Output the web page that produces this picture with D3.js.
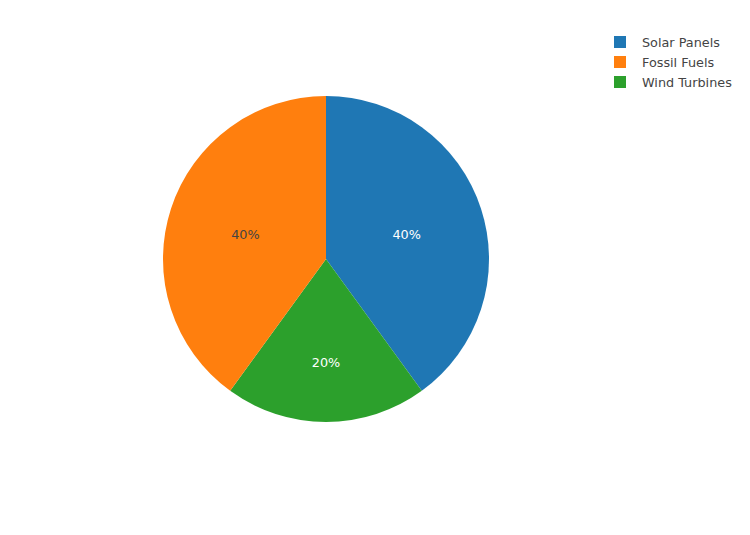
<!DOCTYPE html>
<html>
<head>
<meta charset="utf-8">
<script src="https://cdn.jsdelivr.net/npm/d3@7"></script>
<style>
  body { margin: 0; background: #fff; }
  svg { display: block; font-family: "DejaVu Sans", Verdana, sans-serif; }
</style>
</head>
<body>
<div id="chart"></div>
<script>
// slices in drawing order (clockwise from top)
const sliceLabels = ["Solar Panels", "Wind Turbines", "Fossil Fuels"];
const sliceValues = [40, 20, 40];
const sliceColors = ["#1f77b4", "#2ca02c", "#ff7f0e"];
const textColors = ["#ffffff", "#ffffff", "#444444"];

// legend order
const legendLabels = ["Solar Panels", "Fossil Fuels", "Wind Turbines"];

const W = 750;
const H = 535;
const cx = 326, cy = 259, R = 163;

const svg = d3.select("#chart").append("svg").attr("width", W).attr("height", H);

const color = d3.scaleOrdinal().domain(sliceLabels).range(sliceColors);
const txtColor = d3.scaleOrdinal().domain(sliceLabels).range(textColors);

const pie = d3.pie().sort(null).value(d => d.value);
const arcs = pie(sliceLabels.map((l, i) => ({ label: l, value: sliceValues[i] })));
const total = d3.sum(sliceValues);

const arc = d3.arc().innerRadius(0).outerRadius(R);

const g = svg.append("g").attr("transform", `translate(${cx},${cy})`);

g.selectAll("path")
  .data(arcs)
  .join("path")
  .attr("d", arc)
  .attr("fill", d => color(d.data.label));

// narrow slices push their text further out
g.selectAll("text")
  .data(arcs)
  .join("text")
  .attr("transform", d => {
    const span = d.endAngle - d.startAngle;
    const r = span > Math.PI * 0.6 ? R * 0.52 : R * 0.63;
    const a = (d.startAngle + d.endAngle) / 2;
    return `translate(${r * Math.sin(a)},${-r * Math.cos(a)})`;
  })
  .attr("text-anchor", "middle")
  .attr("dy", "0.45em")
  .attr("font-size", 12.8)
  .attr("fill", d => txtColor(d.data.label))
  .text(d => `${Math.round(d.data.value / total * 100)}%`);

// Legend
const legend = svg.append("g").attr("transform", "translate(614,36)");
const items = legend.selectAll("g")
  .data(legendLabels)
  .join("g")
  .attr("transform", (d, i) => `translate(0,${i * 20})`);

items.append("rect")
  .attr("width", 12).attr("height", 12)
  .attr("fill", d => color(d));

items.append("text")
  .attr("x", 28).attr("y", 7)
  .attr("dy", "0.35em")
  .attr("font-size", 12.8)
  .attr("fill", "#444")
  .text(d => d);
</script>
</body>
</html>
